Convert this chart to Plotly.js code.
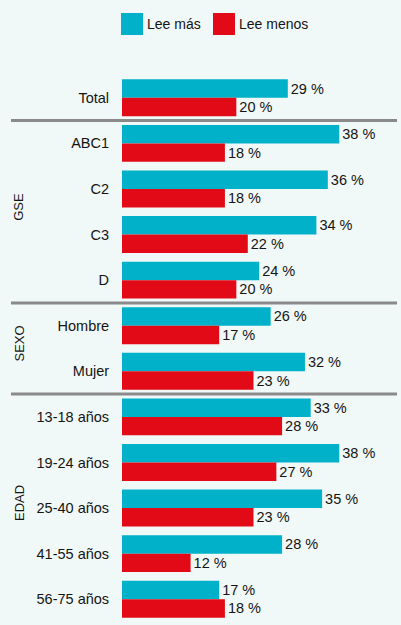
<!DOCTYPE html>
<html>
<head>
<meta charset="utf-8">
<script src="https://cdn.plot.ly/plotly-3.0.1.min.js"></script>
<style>html,body{margin:0;padding:0;background:#f1f9f8;}</style>
</head>
<body>
<div id="chart" style="width:401px;height:625px;"></div>
<script>
const categories = ["Total","ABC1","C2","C3","D","Hombre","Mujer","13-18 años","19-24 años","25-40 años","41-55 años","56-75 años"];
const leeMas   = [29,38,36,34,24,26,32,33,38,35,28,17];
const leeMenos = [20,18,18,22,20,17,23,28,27,23,12,18];
const seriesNames = ["Lee más","Lee menos"];
const groupNames = ["GSE","SEXO","EDAD"];
const groupFirst = [1,5,7];
const groupLast  = [4,6,11];

const W = 401, H = 625, L = 122, R = 0, T = 75, B = 3;
const FONT = "'Liberation Sans',Arial,sans-serif";
const colors = ["#00b1c9","#e10a16"];
const pw = W - L - R, ph = H - T - B;
const px2x = p => (p - L) / pw;
const py2y = p => 1 - (p - T) / ph;

const traces = [leeMas, leeMenos].map((vals, i) => ({
  type: "bar", orientation: "h",
  y: categories, x: vals, name: seriesNames[i],
  marker: {color: colors[i]},
  texttemplate: "%{x} %", textposition: "outside",
  textfont: {family: FONT, size: 14.5, color: "#141414"},
  cliponaxis: false, showlegend: false, hoverinfo: "skip"
}));

const shapes = [];
const annotations = [];
groupFirst.forEach((f, i) => {
  shapes.push({type: "line", xref: "paper", yref: "y", x0: px2x(11), x1: px2x(397),
    y0: f - 0.5, y1: f - 0.5, line: {color: "#8a8a8a", width: 3}});
  annotations.push({xref: "paper", yref: "y", x: px2x(19), y: (f + groupLast[i]) / 2, yshift: 5,
    xanchor: "center", yanchor: "middle",
    text: groupNames[i], textangle: -90, showarrow: false,
    font: {family: FONT, size: 13, color: "#141414"}});
});
// legend
const legX = [121, 213];
seriesNames.forEach((n, i) => {
  shapes.push({type: "rect", xref: "paper", yref: "paper",
    x0: px2x(legX[i]), x1: px2x(legX[i] + 22), y0: py2y(35), y1: py2y(13),
    fillcolor: colors[i], line: {width: 0}});
  annotations.push({xref: "paper", yref: "paper", x: px2x(legX[i] + 24), y: py2y(24),
    xanchor: "left", yanchor: "middle", text: n, showarrow: false,
    font: {family: FONT, size: 14, color: "#141414"}});
});

const layout = {
  width: W, height: H,
  margin: {l: L, r: R, t: T, b: B, pad: 0},
  paper_bgcolor: "#f1f9f8", plot_bgcolor: "#f1f9f8",
  barmode: "group", bargap: 0.19, bargroupgap: 0,
  showlegend: false,
  xaxis: {range: [0, 48.8], visible: false, fixedrange: true},
  yaxis: {type: "category", autorange: "reversed", range: [11.5, -0.5],
    ticks: "outside", ticklen: 9, tickcolor: "rgba(0,0,0,0)",
    showgrid: false, zeroline: false, showline: false,
    tickfont: {family: FONT, size: 14.5, color: "#141414"}},
  shapes: shapes, annotations: annotations
};
Plotly.newPlot("chart", traces, layout, {displayModeBar: false, staticPlot: true});
</script>
</body>
</html>
